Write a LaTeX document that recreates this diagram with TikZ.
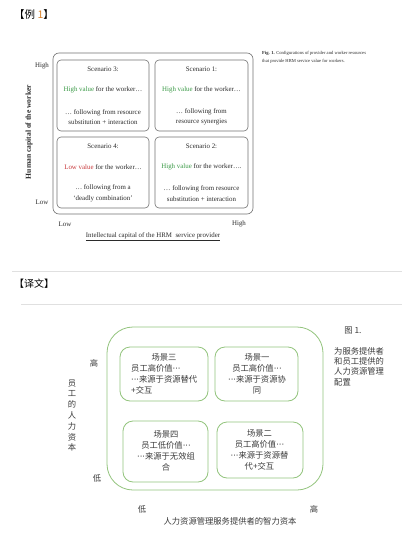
\documentclass[tikz,border=0pt]{standalone}
\usepackage{fontspec}
\setmainfont{Liberation Serif}
\newfontfamily\cjk{Noto Sans CJK SC}
\newfontfamily\dvs{DejaVu Sans}
\definecolor{hv}{HTML}{3A9A46}
\definecolor{lv}{HTML}{C8373A}
\definecolor{gline}{HTML}{93C47D}
\definecolor{ttxt}{HTML}{2B2B2B}
\definecolor{ctxt}{HTML}{3A3A3A}
\definecolor{orng}{HTML}{D9822B}
\begin{document}
\begin{tikzpicture}[x=1pt,y=-1pt,
  ebox/.style={draw=black!55,line width=0.6pt,rounded corners=4pt},
  eouter/.style={draw=black!55,line width=0.6pt,rounded corners=6pt},
  etxt/.style={font=\fontsize{6.9}{10.5}\selectfont,text=ttxt,align=center,inner sep=0pt},
  elab/.style={font=\fontsize{6.9}{8}\selectfont,text=ttxt,inner sep=0pt},
  cbox/.style={draw=gline,line width=0.8pt,rounded corners=10pt},
  couter/.style={draw=gline,line width=0.8pt,rounded corners=26pt},
  ctx/.style={font=\cjk\fontsize{8.3}{11}\selectfont,text=ctxt,inner sep=0pt},
  sepline/.style={draw=black!12,line width=0.8pt}]
\useasboundingbox[fill=white] (0,0) rectangle (402,533);

% ---------- top part ----------
\node[font=\cjk\fontsize{10.5}{12}\selectfont,anchor=west,inner sep=0pt] (t1) at (14,15) {【例 \textcolor{orng}{1}】};

\draw[eouter] (53,53) rectangle (253,214);
\node[ebox,minimum width=92pt,minimum height=71pt] (s3) at (103,95.5) {};
\node[ebox,minimum width=93pt,minimum height=71pt] (s1) at (201.5,95.5) {};
\node[ebox,minimum width=92pt,minimum height=71pt] (s4) at (103,172.5) {};
\node[ebox,minimum width=93pt,minimum height=71pt] (s2) at (201.5,172.5) {};

\node[etxt] (s3a) at (103,69) {Scenario 3:};
\node[etxt] (s3b) at (103,90) {\textcolor{hv}{High value} for the worker\ldots};
\node[etxt] (s3c) at (103,117) {\ldots\ following from resource\\substitution + interaction};

\node[etxt] (s1a) at (201.5,69) {Scenario 1:};
\node[etxt] (s1b) at (201.5,90) {\textcolor{hv}{High value} for the worker\ldots};
\node[etxt] (s1c) at (201.5,117) {\ldots\ following from\\resource synergies};

\node[etxt] (s4a) at (103,146) {Scenario 4:};
\node[etxt] (s4b) at (103,167) {\textcolor{lv}{Low value} for the worker\ldots};
\node[etxt] (s4c) at (103,193.5) {\ldots\ following from a\\`deadly combination'};

\node[etxt] (s2a) at (201.5,146) {Scenario 2:};
\node[etxt] (s2b) at (201.5,167) {\textcolor{hv}{High value} for the worker\ldots.};
\node[etxt] (s2c) at (201.5,193.5) {\ldots\ following from resource\\substitution + interaction};

\node[elab] (yh) at (42,66) {High};
\node[elab] (yl) at (42,202) {Low};
\node[elab] (xl) at (65,224) {Low};
\node[elab] (xh) at (239,224) {High};
\node[font=\bfseries\fontsize{7.6}{8}\selectfont,text=ttxt,rotate=90,inner sep=0pt] (ya) at (29,132) {Human capital of the worker};
\node[elab] (xa) at (153,237) {\underline{Intellectual capital of the HRM\ \ service provider}};
\node[font=\fontsize{4.6}{8}\selectfont,text=ttxt,anchor=north west,align=left,inner sep=0pt] (cap) at (262,51.5) {\textbf{Fig. 1.} Configurations of provider and worker resources\\that provide HRM service value for workers.};

% ---------- separators ----------
\draw[sepline] (12,271) -- (402,271);
\node[font=\cjk\fontsize{10}{12}\selectfont,anchor=west,inner sep=0pt] (t2) at (14,284) {【译文】};
\draw[sepline] (21,304) -- (402,304);

% ---------- bottom part ----------
\draw[couter] (107,327) rectangle (323,490);
\node[cbox,minimum width=88pt,minimum height=54pt] (c3) at (164,374) {};
\node[cbox,minimum width=83pt,minimum height=54pt] (c1) at (256.5,374) {};
\node[cbox,minimum width=85pt,minimum height=61pt] (c4) at (165.5,451.5) {};
\node[cbox,minimum width=86pt,minimum height=56pt] (c2) at (260,450) {};

\node[ctx] (c3a) at (164,357) {场景三};
\node[ctx,align=left,anchor=west] (c3b) at (131,379) {员工高价值{\dvs ···}\\{\dvs ···}来源于资源替代\\+交互};
\node[ctx,align=center] (c1a) at (257,373.5) {场景一\\员工高价值{\dvs ···}\\{\dvs ···}来源于资源协\\同};
\node[ctx,align=center] (c4a) at (166,451) {场景四\\员工低价值{\dvs ···}\\{\dvs ···}来源于无效组\\合};
\node[ctx,align=center] (c2a) at (259.5,449.5) {场景二\\员工高价值{\dvs ···}\\{\dvs ···}来源于资源替\\代+交互};

\node[ctx] (gh) at (94,363) {高};
\node[ctx] (gl) at (97,478) {低};
\node[ctx,align=center,font=\cjk\fontsize{8.3}{10.8}\selectfont] (gy) at (72,415.5) {员\\工\\的\\人\\力\\资\\本};
\node[ctx] (bl) at (142,509) {低};
\node[ctx] (bh) at (314,509) {高};
\node[ctx] (bx) at (230,521) {人力资源管理服务提供者的智力资本};

\node[ctx] (f1) at (353,331) {图 1.};
\node[ctx,align=left,anchor=north west,font=\cjk\fontsize{8.3}{10.3}\selectfont] (f2) at (334,347) {为服务提供者\\和员工提供的\\人力资源管理\\配置};
\end{tikzpicture}
\end{document}
